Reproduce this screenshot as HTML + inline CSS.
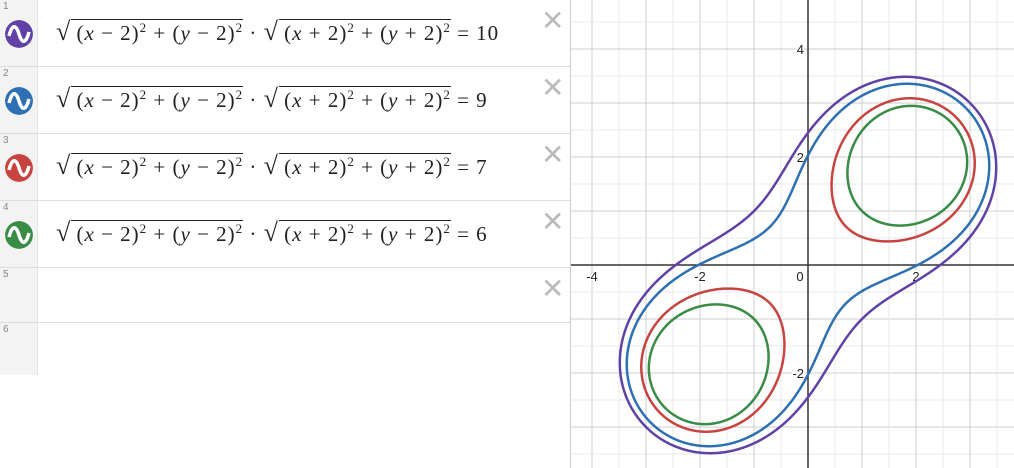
<!DOCTYPE html>
<html><head><meta charset="utf-8"><style>
body{margin:0;width:1014px;height:468px;overflow:hidden;background:#fff;font-family:"Liberation Serif",serif;position:relative}
#panel{position:absolute;left:0;top:0;width:570px;height:468px;background:#fff;border-right:1px solid #ccc}
.row{position:absolute;left:0;width:570px;border-bottom:1px solid #ddd}
.gut{position:absolute;left:0;top:0;bottom:0;width:37px;background:#f3f3f3;border-right:1px solid #e4e4e4}
.num{position:absolute;left:3px;top:1px;font:10px "Liberation Sans",sans-serif;color:#888}
.icon{position:absolute;left:5px;top:20px;width:28px;height:28px;border-radius:50%}
.expr{position:absolute;left:56px;top:17px;font-size:21px;letter-spacing:1px;white-space:nowrap;color:#222}
.x{position:absolute;left:541px;top:4px;font:28px "Liberation Sans",sans-serif;color:#bbb}
.sq{border-top:1.3px solid #222;padding-top:1px}
sup{font-size:13px}
</style></head><body>
<div id="panel"></div>
<svg id="g" style="position:absolute;left:571px;top:0" width="443" height="468"></svg>
<script>
const cvals=[10,9,7,6];
const rhs=["10","9","7","6"];
const colors=["#6042a6","#2d70b3","#c74440","#388c46"];
const xTicks=[-4,-2,0,2];
const yTicks=[4,2,-2];
const panel=document.getElementById('panel');
const rowsY=[[0,66],[67,66],[134,66],[201,66],[268,54],[323,52]];
rowsY.forEach((r,i)=>{
 const d=document.createElement('div');d.className='row';d.style.top=r[0]+'px';d.style.height=r[1]+'px';
 
 
 if(i==5)d.style.borderBottom='none';
 let h=`<div class="gut"></div><div class="num">${i+1}</div>`;
 if(i<4){
  h+=`<svg class="icon" viewBox="0 0 28 28"><circle cx="14" cy="14" r="14" fill="${colors[i]}"/><path d="M4 16 C7 4,11 4,14 14 S21 24,24 12" stroke="#fff" stroke-width="3.5" fill="none"/></svg>`;
  h+=`<div class="expr"><span style="font-size:26px">√</span><span class="sq">&thinsp;(<i>x</i> − 2)<sup>2</sup> + (<i>y</i> − 2)<sup>2</sup></span> · <span style="font-size:26px">√</span><span class="sq">&thinsp;(<i>x</i> + 2)<sup>2</sup> + (<i>y</i> + 2)<sup>2</sup></span> = ${rhs[i]}</div>`;
 }
 if(i<5)h+=`<div class="x">✕</div>`;
 d.innerHTML=h;panel.appendChild(d);
});
const svg=document.getElementById('g');const NS='http://www.w3.org/2000/svg';
const X0=808-571,Y0=265,S=54;
const px=x=>X0+x*S, py=y=>Y0-y*S;
function el(t,a){const e=document.createElementNS(NS,t);for(const k in a)e.setAttribute(k,a[k]);svg.appendChild(e);return e;}
for(let k=-10;k<=10;k++){const v=k/2;
 const maj=k%2==0;const c=maj?'#ccc':'#eaeaea';
 let l=el('line',{x1:px(v),x2:px(v),y1:0,y2:468,stroke:c,'stroke-width':1});
 
 l=el('line',{y1:py(v),y2:py(v),x1:0,x2:443,stroke:c,'stroke-width':1});
 
}
let a=el('line',{x1:px(0),x2:px(0),y1:0,y2:468,stroke:'#333','stroke-width':1.5});

a=el('line',{y1:py(0),y2:py(0),x1:0,x2:443,stroke:'#333','stroke-width':1.5});

function lab(x,y,t,anchor){const e=el('text',{x:x,y:y,'font-family':'Liberation Sans, sans-serif','font-size':13,fill:'#222','text-anchor':anchor,stroke:'#fff','stroke-width':3,'paint-order':'stroke'});e.textContent=t;return e;}
xTicks.forEach(v=>{const e=lab(v==0?px(v)-8:px(v),Y0+16,v==0?'0':String(v),'middle');});
yTicks.forEach(v=>{const e=lab(px(0)-4,py(v)+5,String(v),'end');});
const A2=8;
function pt(r,t){const ang=t+Math.PI/4;return [px(r*Math.cos(ang)),py(r*Math.sin(ang))];}
cvals.forEach((c,i)=>{
 const N=2000;let d='';
 if(c>A2){
  for(let j=0;j<=N;j++){const t=j/N*2*Math.PI;const r=Math.sqrt(A2*Math.cos(2*t)+Math.sqrt(c*c-A2*A2*Math.sin(2*t)**2));const p=pt(r,t);d+=(j?'L':'M')+p[0].toFixed(2)+' '+p[1].toFixed(2);}
 }else{
  const tm=0.5*Math.asin(c/A2)-1e-9;
  [0,Math.PI].forEach(off=>{let pts=[];
   for(let j=0;j<=N;j++){const t=-tm+2*tm*j/N;const q=Math.sqrt(Math.max(0,c*c-A2*A2*Math.sin(2*t)**2));pts.push(pt(Math.sqrt(A2*Math.cos(2*t)+q),t+off));}
   for(let j=N;j>=0;j--){const t=-tm+2*tm*j/N;const q=Math.sqrt(Math.max(0,c*c-A2*A2*Math.sin(2*t)**2));pts.push(pt(Math.sqrt(Math.max(0,A2*Math.cos(2*t)-q)),t+off));}
   pts.forEach((p,k)=>d+=(k?'L':'M')+p[0].toFixed(2)+' '+p[1].toFixed(2));d+='Z';});
 }
 const p=el('path',{d:d,fill:'none',stroke:colors[i],'stroke-width':2.5});
 
 
});
</script></body></html>
